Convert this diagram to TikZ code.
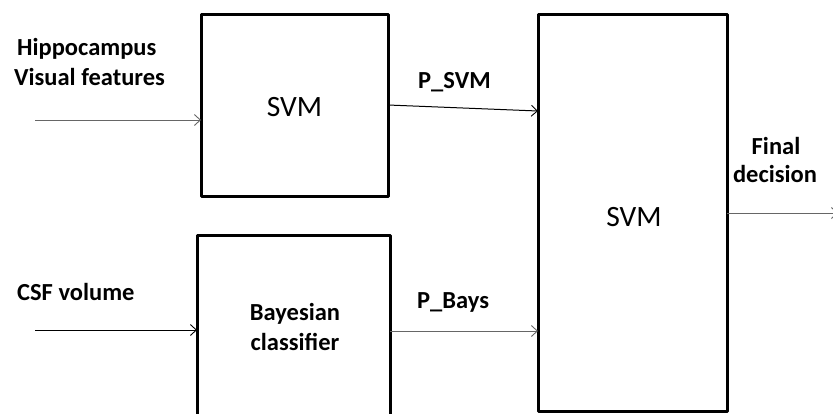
\documentclass[tikz,border=0pt]{standalone}
\usepackage{fontspec}
\setmainfont{Carlito}
\usetikzlibrary{arrows.meta}
\begin{document}
\begin{tikzpicture}[x=1pt,y=-1pt,
  blockbox/.style={draw=black,line width=3pt,line join=round},
  lbl/.style={font=\fontsize{24.5}{28}\selectfont\bfseries,inner sep=0pt,align=center},
  big/.style={font=\fontsize{29.5}{32}\selectfont,inner sep=0pt},
  mid/.style={font=\fontsize{24.5}{30}\selectfont\bfseries,inner sep=0pt,align=center},
  arr/.style={line width=1pt,-{Straight Barb[length=6pt,width=11pt,line width=0.9pt]}},
  garr/.style={arr,draw=black!60},
  karr/.style={arr,draw=black}]
\useasboundingbox (0,0) rectangle (833,413);
\clip (0,0) rectangle (833,413);
% boxes
\draw[blockbox] (201,14) rectangle (388,196);
\coordinate (svm1w) at (201,120);
\coordinate (svm1e) at (388,105);
\draw[blockbox] (197,235) rectangle (390,430);
\coordinate (bayw) at (197,330);
\coordinate (baye) at (390,331);
\draw[blockbox] (538,14) rectangle (727,411);
\coordinate (svm2a) at (538,111);
\coordinate (svm2b) at (538,331);
\coordinate (svm2e) at (727,213);
% texts
\node[big] (t1) at (294.5,107) {SVM};
\node[big] (t2) at (634,217) {SVM};
\node[mid] (t3) at (295,327) {Bayesian\\classifier};
\node[lbl,anchor=west] (h1) at (17,49) {Hippocampus};
\node[lbl,anchor=west] (h2) at (14,77) {Visual features};
\node[lbl,anchor=west] (c1) at (17,292) {CSF volume};
\node[lbl,anchor=west] (p1) at (418,82) {P\_SVM};
\node[lbl,anchor=west] (p2) at (417,302) {P\_Bays};
\node[lbl] (f1) at (776,146) {Final};
\node[lbl] (f2) at (775,174) {decision};
% connectors
\coordinate (in1) at (35,120);
\coordinate (in2) at (35,330);
\coordinate (out) at (838,213);
\draw[garr] (in1) -- (svm1w);
\draw[karr] (in2) -- (bayw);
\draw[karr] (svm1e) -- (svm2a);
\draw[garr] (baye) -- (svm2b);
\draw[garr] (svm2e) -- (out);
\end{tikzpicture}
\end{document}
